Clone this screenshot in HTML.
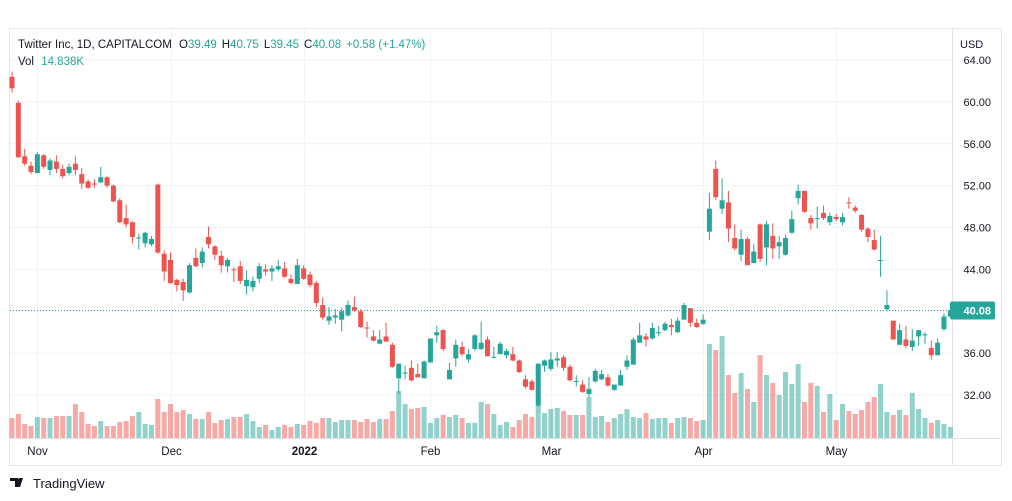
<!DOCTYPE html>
<html><head><meta charset="utf-8"><style>
html,body{margin:0;padding:0;background:#fff;width:1012px;height:501px;overflow:hidden;font-family:"Liberation Sans",sans-serif;}
svg{display:block}
</style></head><body>
<svg id="chart" width="1012" height="501" viewBox="0 0 1012 501" xmlns="http://www.w3.org/2000/svg">
<rect x="9.5" y="28.5" width="992" height="437" fill="#fff" stroke="#e6e6e6"/>
<line x1="952.5" y1="28" x2="952.5" y2="465" stroke="#e0e3eb"/>
<line x1="9" y1="438.5" x2="1002" y2="438.5" stroke="#e0e3eb"/>
<g id="grid"></g>
<g id="vols"></g>
<g id="candles"></g>
<g id="yaxis"></g>
<g id="xaxis"></g>
<text x="18" y="48" font-size="11.5" fill="#131722">Twitter Inc, 1D, CAPITALCOM <tspan dx="4">O</tspan><tspan fill="#26a69a">39.49</tspan><tspan dx="5">H</tspan><tspan fill="#26a69a">40.75</tspan><tspan dx="5">L</tspan><tspan fill="#26a69a">39.45</tspan><tspan dx="5">C</tspan><tspan fill="#26a69a">40.08</tspan><tspan dx="5" fill="#26a69a">+0.58 (+1.47%)</tspan></text>
<text x="18" y="65" font-size="11.5" fill="#131722">Vol <tspan dx="4" fill="#26a69a">14.838K</tspan></text>
<text x="960" y="48" font-size="11" fill="#131722">USD</text>
<g>
<path d="M10 478h8v9h-3v-6h-5z M19 478h4l-3 9h-3z" fill="#131722"/>
<circle cx="19.5" cy="480" r="1.6" fill="#131722"/>
<text x="33" y="488" font-size="13" fill="#131722">TradingView</text>
</g>
</svg>
<script>
const opens=[62.4,59.9,54.8,53.9,53.2,54.9,53.5,54.3,53.6,53.2,54.1,53.1,52.4,52.2,52.3,52.8,52.0,50.6,48.9,48.5,47.0,46.5,46.4,52.1,45.5,44.9,43.0,42.8,41.8,45.1,44.6,47.1,46.2,45.3,44.3,44.0,44.3,
42.4,42.3,43.1,44.0,43.8,44.0,44.1,43.1,42.6,44.1,43.5,42.7,40.6,39.1,39.4,39.2,39.6,40.4,40.0,38.45,37.6,36.9,37.6,36.8,33.6,34.1,34.6,34.0,33.6,35.1,37.7,38.2,33.5,35.5,36.6,35.4,36.4,
36.4,37.3,35.6,35.9,35.8,35.9,35.3,33.5,33.3,31.0,34.8,34.5,35.3,35.6,34.7,33.3,33.0,32.1,33.3,33.5,33.7,32.5,32.9,34.7,34.9,37.0,37.6,37.4,37.9,38.2,38.7,38.0,39.2,40.3,38.9,38.8,
47.6,53.6,49.8,50.4,47.0,45.4,46.9,44.6,48.3,46.1,47.2,46.2,45.4,47.5,50.8,51.5,48.9,48.85,49.4,48.5,49.0,48.5,50.4,49.9,49.2,47.9,46.8,44.85,40.2,39.1,36.8,37.3,36.6,37.6,37.7,36.5,35.8,38.3,39.49];
const highs=[62.9,60.1,55.5,54.3,55.2,55.0,54.6,54.9,54.0,54.1,54.8,53.7,52.6,52.6,53.8,52.9,52.1,50.8,50.2,48.6,47.4,47.6,47.2,52.2,45.8,45.6,43.1,43.1,44.6,46.0,46.1,48.1,46.3,45.8,45.1,44.2,44.8,
43.9,43.3,44.6,44.5,44.4,44.9,44.7,43.5,45.0,44.4,43.8,42.9,41.3,40.4,40.2,40.3,41.0,41.4,40.2,39.0,38.2,38.2,38.9,37.0,35.0,34.8,35.3,35.0,35.3,37.4,38.6,38.3,35.1,37.3,37.1,36.4,37.8,
39.0,37.6,36.6,37.1,36.4,36.6,35.4,33.9,33.5,35.0,35.4,36.1,36.1,35.8,34.9,33.9,33.4,33.7,34.5,34.4,34.0,33.0,34.4,35.8,37.5,38.9,37.9,38.9,38.6,39.0,39.3,39.4,40.8,40.3,39.3,39.7,
51.3,54.4,52.7,51.5,48.3,47.8,47.1,46.4,48.4,48.6,48.4,47.2,47.3,49.6,52.1,51.5,49.2,50.0,50.1,49.4,49.3,49.4,50.9,50.1,49.3,48.0,47.8,47.2,42.0,39.1,38.8,38.6,38.3,38.2,38.0,37.2,37.4,39.8,40.75];
const lows=[60.9,54.7,53.9,53.1,53.2,53.6,53.0,53.2,52.7,53.0,53.0,51.7,51.7,51.8,52.3,51.8,50.4,48.4,48.0,46.5,45.9,46.1,46.2,45.5,42.9,42.6,41.9,41.0,41.7,44.2,44.2,46.0,44.9,43.7,43.7,42.8,42.6,
41.6,41.9,42.7,43.4,42.9,43.8,43.2,42.6,42.6,43.0,42.3,40.4,39.2,38.7,38.8,38.1,39.5,39.9,38.4,37.5,37.1,36.9,37.1,34.6,32.1,33.5,33.3,33.7,33.6,35.1,37.0,36.2,33.5,34.7,35.7,35.1,36.2,
36.3,35.7,35.5,35.9,35.5,35.2,34.1,32.6,32.4,30.9,34.2,34.3,34.7,34.3,33.3,32.8,32.2,31.8,33.2,33.4,32.8,32.4,32.9,34.4,34.9,37.0,36.6,37.3,37.6,38.1,37.7,37.9,39.2,38.5,38.4,38.7,
46.8,50.6,49.3,46.6,45.8,44.8,44.4,44.6,44.7,44.4,45.0,45.0,45.3,47.4,50.2,49.4,47.8,47.9,48.7,48.2,48.6,48.2,49.8,49.4,47.6,46.6,45.8,43.3,40.0,37.3,36.8,36.5,36.2,36.7,36.9,35.4,35.8,38.1,39.45];
const closes=[61.3,54.7,54.1,53.3,55.0,53.8,54.4,53.6,52.9,53.8,53.5,52.2,51.8,52.1,52.8,52.0,50.5,48.5,48.3,47.1,47.05,47.5,46.9,45.6,43.8,42.7,42.5,42.0,44.4,44.3,45.7,46.4,45.4,44.4,44.9,43.95,42.9,
43.0,42.9,44.3,43.8,44.1,44.3,43.3,42.7,44.4,43.1,42.5,40.8,39.4,39.5,39.6,40.0,40.6,40.1,38.5,38.4,37.2,37.3,37.1,34.7,35.0,34.15,33.4,33.7,35.2,37.4,38.0,36.4,34.4,36.8,35.9,35.9,37.7,
37.0,35.7,35.65,36.9,36.2,35.3,34.2,32.8,32.5,35.0,35.3,35.4,35.5,34.6,33.4,33.35,32.3,32.6,34.3,34.0,32.9,33.0,33.9,35.3,37.3,37.7,37.3,38.4,38.0,38.8,38.5,39.1,40.6,38.9,38.5,39.2,
49.8,50.9,50.6,47.9,46.0,46.9,44.4,45.7,45.0,48.3,46.0,46.6,47.0,48.8,51.5,49.5,48.4,48.9,48.9,49.1,48.8,49.0,50.3,49.6,47.8,47.1,45.9,44.9,40.6,37.3,38.2,36.7,37.2,38.2,37.8,35.8,37.0,39.5,40.08];
const volumes=[20,24,14,12,21,20,20,22,22,22,34,26,14,12,17,12,12,16,17,22,26,14,13,39,26,34,26,28,24,19,19,26,15,18,19,21,21,
24,17,11,13,8,11,13,11,14,13,17,15,20,20,16,18,18,18,16,19,16,19,19,27,47,34,29,30,31,15,20,23,21,23,20,15,15,
36,34,24,13,16,11,18,24,21,33,25,29,30,27,23,23,23,41,21,22,16,20,24,29,21,20,25,19,20,20,15,20,21,20,17,18,
94,88,102,63,45,65,49,36,83,63,55,43,66,54,74,36,55,52,26,44,18,34,27,24,28,36,41,54,26,23,28,23,45,29,20,15,18,14,11];
const yTicks=[64,60,56,52,48,44,36,32];
const xTickLabels=["Nov","Dec","2022","Feb","Mar","Apr","May"];
const xTickIndex=[4,25,46,66,85,109,130];
const lastPrice=40.08;

const NS="http://www.w3.org/2000/svg";
const X0=12, DX=6.34, VB=438;
const xs=i=>X0+i*DX;
const ys=p=>60+(64-p)*10.47;
const vh=v=>v*1.0;
function mk(tag,attrs,parent){const e=document.createElementNS(NS,tag);for(const k in attrs)e.setAttribute(k,attrs[k]);parent.appendChild(e);return e;}
const grid=document.getElementById('grid'),vols=document.getElementById('vols'),cg=document.getElementById('candles'),ya=document.getElementById('yaxis'),xa=document.getElementById('xaxis');
yTicks.concat([40]).forEach(t=>{const l=mk('line',{x1:10,x2:952,y1:ys(t),y2:ys(t),stroke:'#f0f3fa'},grid);

});
xTickIndex.forEach((ix,k)=>{const x=Math.round(xs(ix))+0.5;const l=mk('line',{x1:x,x2:x,y1:29,y2:438,stroke:'#f0f3fa'},grid);


const t=mk('text',{x:x,y:455,'font-size':11.5,'text-anchor':'middle',fill:'#131722','font-weight':xTickLabels[k]==='2022'?'bold':'normal'},xa);t.textContent=xTickLabels[k];

});
yTicks.forEach(t=>{const e=mk('text',{x:991,y:ys(t)+4,'font-size':11,'text-anchor':'end',fill:'#131722'},ya);e.textContent=t.toFixed(2);

});
opens.forEach((o,i)=>{const c=closes[i],up=c>=o,x=xs(i);
const v=mk('rect',{x:x-2.5,y:VB-vh(volumes[i]),width:5,height:vh(volumes[i]),fill:up?'rgba(38,166,154,0.5)':'rgba(239,83,80,0.5)'},vols);


const col=up?'#26a69a':'#ef5350';
const g=mk('g',{},cg);


mk('line',{x1:x,x2:x,y1:ys(highs[i]),y2:ys(lows[i]),stroke:col,'stroke-width':1},g);
const top=ys(Math.max(o,c)),bot=ys(Math.min(o,c));
mk('rect',{x:x-2.5,y:top,width:5,height:Math.max(1,bot-top),fill:col},g);});
const ly=ys(lastPrice);
const pl=mk('line',{x1:10,x2:952,y1:ly,y2:ly,stroke:'#26a69a','stroke-dasharray':'1 2'},cg);


const bx=mk('rect',{x:950,y:ly-9,width:45,height:18,rx:2,fill:'#26a69a'},ya);


const bt=mk('text',{x:991,y:ly+4,'font-size':11,'text-anchor':'end',fill:'#fff','font-weight':'bold'},ya);bt.textContent=lastPrice.toFixed(2);


</script>
</body></html>
